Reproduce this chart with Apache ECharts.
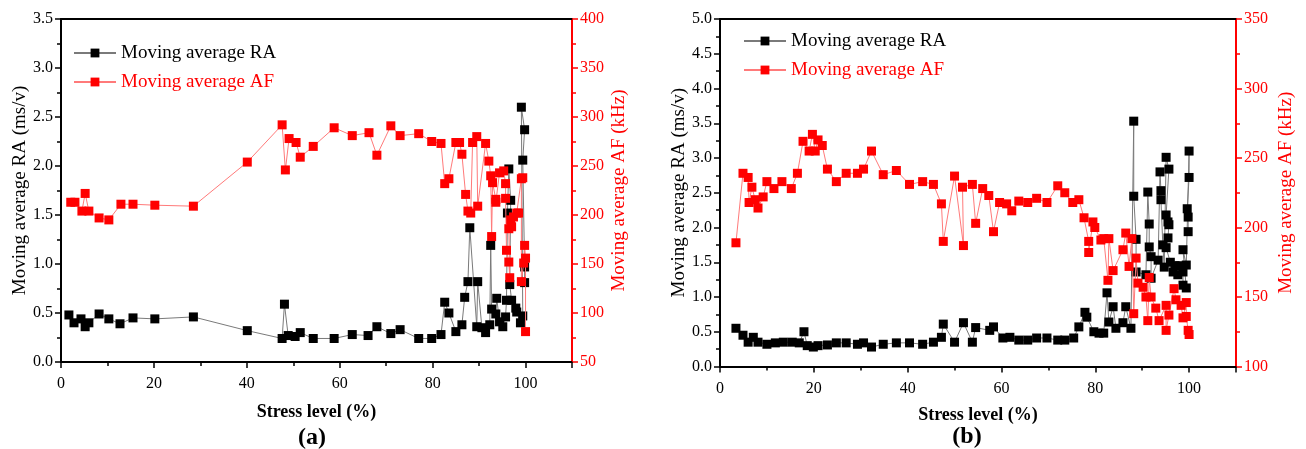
<!DOCTYPE html>
<html>
<head>
<meta charset="utf-8">
<script src="https://cdn.jsdelivr.net/npm/echarts@6/dist/echarts.min.js"></script>
<style>
  html, body { margin: 0; padding: 0; background: #fff; }
  #chart { width: 1306px; height: 449px; }
</style>
</head>
<body>
<div id="chart"></div>
<script>
// ---- Panel (a): moving averages versus stress level ----
const stressRA_a = [1.7, 2.8, 4.3, 5.2, 6.0, 8.2, 10.3, 12.7, 15.5, 20.2, 28.5, 40.1, 47.6, 48.1, 48.9, 50.4, 51.5, 54.3,
  58.8, 62.7, 66.1, 68.0, 71.0, 73.0, 77.0, 79.8, 81.8, 82.6, 83.5, 85.0, 86.3, 86.9, 87.6, 88.0, 89.5, 89.7, 90.6,
  91.4, 92.3, 92.5, 92.7, 93.6, 93.8, 94.4, 95.1, 95.7, 95.9, 96.1, 96.4, 96.8, 96.6, 97.0, 97.9, 98.1, 98.9, 99.4,
  99.1, 99.8, 99.4, 99.8, 99.8];
const ra_a = [0.48, 0.40, 0.44, 0.36, 0.40, 0.49, 0.44, 0.39, 0.45, 0.44, 0.46, 0.32, 0.24, 0.59, 0.27, 0.26, 0.30, 0.24,
  0.24, 0.28, 0.27, 0.36, 0.29, 0.33, 0.24, 0.24, 0.28, 0.61, 0.50, 0.31, 0.38, 0.66, 0.82, 1.37, 0.36, 0.82, 0.35,
  0.30, 0.38, 1.19, 0.54, 0.49, 0.65, 0.41, 0.36, 0.46, 0.63, 1.52, 1.97, 1.65, 0.79, 0.63, 0.55, 0.51, 0.40, 0.47,
  2.60, 2.37, 2.06, 0.97, 0.81];
const stressAF_a = [2.1, 3.0, 4.5, 5.2, 6.0, 8.2, 10.3, 12.9, 15.5, 20.2, 28.5, 40.1, 47.6, 48.3, 49.1, 50.6, 51.5, 54.3,
  58.8, 62.7, 66.3, 68.0, 71.0, 73.0, 77.0, 79.8, 81.8, 82.6, 83.5, 85.0, 85.8, 86.3, 87.1, 87.6, 88.2, 88.6, 89.5,
  89.7, 91.4, 92.1, 92.5, 92.7, 92.9, 93.6, 93.6, 94.4, 95.3, 95.7, 95.7, 95.9, 96.4, 96.6, 96.4, 96.8, 97.0, 97.4,
  98.1, 98.5, 99.1, 99.4, 99.1, 99.6, 99.8, 100.0, 100.0];
const af_a = [213, 213, 204, 222, 204, 197, 195, 211, 211, 210, 209, 254, 292, 246, 278, 274, 259, 270,
  289, 281, 284, 261, 291, 281, 283, 275, 273, 232, 237, 274, 274, 262, 221, 204, 202, 274, 280,
  209, 273, 255, 240, 178, 233, 216, 213, 243, 245, 232, 217, 164, 152, 136, 186, 195, 188, 198,
  202, 202, 237, 238, 132, 151, 169, 156, 81];

// ---- Panel (b) ----
const stressRA_b = [3.4, 4.9, 6.0, 7.1, 8.1, 10.0, 11.8, 13.5, 15.4, 16.9, 17.9, 18.6, 19.9, 20.9, 22.9, 24.8, 26.9,
  29.3, 30.6, 32.3, 34.8, 37.6, 40.4, 43.2, 45.5, 47.2, 47.6, 50.0, 51.9, 53.8, 54.5, 57.5, 58.3, 60.3, 61.8, 63.7,
  65.6, 67.5, 69.7, 72.0, 73.5, 75.4, 76.5, 77.8, 78.2, 79.7, 80.8, 81.8, 82.5, 82.9, 83.8, 84.4, 85.9, 86.5, 87.6,
  88.2, 88.2, 88.7, 88.7, 90.8, 91.2, 91.5, 91.5, 91.9, 91.9, 93.4, 93.8, 94.0, 94.0, 94.4, 94.7, 95.1, 95.7, 95.1,
  95.5, 95.7, 95.5, 95.1, 96.0, 96.6, 97.0, 97.6, 98.0, 98.7, 98.7, 99.4, 98.7, 99.4, 100.0, 100.0, 99.6, 99.8, 99.8];
const ra_b = [0.55, 0.45, 0.35, 0.42, 0.35, 0.32, 0.34, 0.35, 0.35, 0.34, 0.50, 0.30, 0.28, 0.30, 0.31, 0.34, 0.34,
  0.32, 0.34, 0.28, 0.32, 0.34, 0.34, 0.32, 0.35, 0.42, 0.61, 0.35, 0.63, 0.35, 0.56, 0.52, 0.57, 0.41, 0.42, 0.38,
  0.38, 0.41, 0.41, 0.38, 0.38, 0.41, 0.57, 0.78, 0.71, 0.50, 0.48, 0.48, 1.06, 0.64, 0.86, 0.55, 0.63, 0.86, 0.55,
  3.53, 2.45, 1.83, 1.36, 1.32, 2.51, 2.05, 1.72, 1.58, 1.27, 1.53, 2.80, 2.53, 2.40, 1.75, 1.43, 3.01, 2.84, 2.18,
  2.08, 2.04, 1.85, 1.71, 1.50, 1.36, 1.45, 1.32, 1.45, 1.36, 1.17, 1.13, 1.68, 1.46, 3.10, 2.72, 2.27, 2.15, 1.94];
const stressAF_b = [3.4, 4.9, 6.0, 6.2, 6.8, 7.5, 8.1, 9.2, 10.0, 11.5, 13.2, 15.2, 16.5, 17.7, 19.0, 19.7, 20.3, 20.9,
  21.8, 22.9, 24.8, 26.9, 29.3, 30.6, 32.3, 34.8, 37.6, 40.4, 43.2, 45.5, 47.2, 47.6, 50.0, 51.9, 51.7, 53.8, 54.5,
  56.0, 57.3, 58.3, 59.6, 61.1, 62.2, 63.7, 65.6, 67.5, 69.7, 72.0, 73.5, 75.2, 76.5, 77.6, 78.6, 78.6, 79.5, 79.9,
  81.2, 81.8, 82.7, 82.9, 83.8, 85.9, 86.5, 87.2, 87.8, 88.2, 88.7, 89.1, 90.2, 90.8, 91.2, 91.5, 91.9, 92.9, 93.6,
  95.1, 95.1, 95.7, 96.8, 97.2, 98.3, 98.7, 99.4, 99.4, 99.8, 100.0];
const af_b = [189, 239, 236, 218, 229, 220, 214, 222, 233, 228, 233, 228, 239, 262, 255, 267, 255, 263,
  259, 242, 233, 239, 239, 242, 255, 238, 241, 231, 233, 231, 217, 190, 237, 187, 229, 231, 203,
  228, 223, 197, 218, 217, 212, 219, 218, 221, 218, 230, 225, 218, 220, 207, 190, 182, 204, 200,
  191, 192, 162, 192, 169, 184, 196, 172, 192, 138, 178, 160, 157, 150, 133, 164, 150, 142, 133,
  144, 126, 137, 156, 148, 144, 135, 146, 136, 126, 123];

const SERIF = "'Liberation Serif', 'Times New Roman', serif";
const RED = '#ff0000';
const NAME_RA = 'Moving average RA';
const NAME_AF = 'Moving average AF';

const zip = (xs, ys) => xs.map((x, i) => [x, ys[i]]);

function bottomAxis(gridIndex, gap) {
  return {
    gridIndex, type: 'value', position: 'bottom', min: 0, max: 110, interval: 20,
    axisLine: { onZero: false, lineStyle: { color: '#000', width: 2 } },
    axisTick: { show: true, length: 6, lineStyle: { color: '#000', width: 1.5 } },
    minorTick: { show: true, splitNumber: 2, length: 4, lineStyle: { color: '#000', width: 1.5 } },
    splitLine: { show: false },
    axisLabel: { fontFamily: SERIF, fontSize: 16, color: '#000', margin: 14, showMaxLabel: false },
    name: 'Stress level (%)', nameLocation: 'middle', nameGap: gap,
    nameTextStyle: { fontFamily: SERIF, fontSize: 18, fontWeight: 'bold', color: '#000' }
  };
}
function topAxis(gridIndex) {
  return {
    gridIndex, type: 'value', position: 'top', min: 0, max: 110,
    axisLine: { onZero: false, lineStyle: { color: '#000', width: 2 } },
    axisTick: { show: false }, axisLabel: { show: false }, splitLine: { show: false }
  };
}
function leftAxis(gridIndex, max) {
  return {
    gridIndex, type: 'value', position: 'left', min: 0, max, interval: 0.5,
    axisLine: { show: true, onZero: false, lineStyle: { color: '#000', width: 2 } },
    axisTick: { show: true, length: 6, lineStyle: { color: '#000', width: 1.5 } },
    minorTick: { show: true, splitNumber: 2, length: 4, lineStyle: { color: '#000', width: 1.5 } },
    splitLine: { show: false },
    axisLabel: { fontFamily: SERIF, fontSize: 16, color: '#000', margin: 8, formatter: v => v.toFixed(1) },
    name: 'Moving average RA (ms/v)', nameLocation: 'middle', nameGap: 29, nameRotate: 90,
    nameTextStyle: { fontFamily: SERIF, fontSize: 19, color: '#000' }
  };
}
function rightAxis(gridIndex, min, max, gap) {
  return {
    gridIndex, type: 'value', position: 'right', min, max, interval: 50,
    axisLine: { show: true, onZero: false, lineStyle: { color: RED, width: 2 } },
    axisTick: { show: true, length: 6, lineStyle: { color: RED, width: 1.5 } },
    minorTick: { show: true, splitNumber: 2, length: 4, lineStyle: { color: RED, width: 1.5 } },
    splitLine: { show: false },
    axisLabel: { fontFamily: SERIF, fontSize: 16, color: RED, margin: 8 },
    name: 'Moving average AF (kHz)', nameLocation: 'middle', nameGap: gap, nameRotate: 90,
    nameTextStyle: { fontFamily: SERIF, fontSize: 19, color: RED }
  };
}
function raSeries(xi, yi, data) {
  return {
    name: NAME_RA, type: 'line', xAxisIndex: xi, yAxisIndex: yi, data,
    symbol: 'rect', symbolSize: 9, showAllSymbol: true,
    itemStyle: { color: '#000' }, lineStyle: { color: '#7a7a7a', width: 1 }, z: 2
  };
}
function afSeries(xi, yi, data) {
  return {
    name: NAME_AF, type: 'line', xAxisIndex: xi, yAxisIndex: yi, data,
    symbol: 'rect', symbolSize: 9, showAllSymbol: true,
    itemStyle: { color: RED }, lineStyle: { color: '#ff7a7a', width: 1 }, z: 3
  };
}
function legendAt(left, top) {
  return {
    orient: 'vertical', left, top, itemWidth: 42, itemHeight: 11, itemGap: 9,
    selectedMode: false,
    textStyle: { fontFamily: SERIF, fontSize: 19, lineHeight: 20 },
    data: [
      { name: NAME_RA, textStyle: { color: '#000' } },
      { name: NAME_AF, textStyle: { color: RED } }
    ]
  };
}

const chart = echarts.init(document.getElementById('chart'), null, { renderer: 'canvas' });
chart.setOption({
  animation: false,
  backgroundColor: '#fff',
  grid: [
    { left: 61, top: 19, width: 511, height: 343 },
    { left: 720, top: 19, width: 516, height: 347.5 }
  ],
  xAxis: [bottomAxis(0, 41), topAxis(0), bottomAxis(1, 40), topAxis(1)],
  yAxis: [leftAxis(0, 3.5), rightAxis(0, 50, 400, 38), leftAxis(1, 5.0), rightAxis(1, 100, 350, 41)],
  legend: [legendAt(68, 38), legendAt(738, 26)],
  series: [
    raSeries(0, 0, zip(stressRA_a, ra_a)),
    afSeries(0, 1, zip(stressAF_a, af_a)),
    raSeries(2, 2, zip(stressRA_b, ra_b)),
    afSeries(2, 3, zip(stressAF_b, af_b))
  ],
  graphic: [
    { type: 'text', x: 312, y: 438, style: { text: '(a)', font: 'bold 24px ' + SERIF, fill: '#000', align: 'center', verticalAlign: 'middle' } },
    { type: 'text', x: 967, y: 437, style: { text: '(b)', font: 'bold 24px ' + SERIF, fill: '#000', align: 'center', verticalAlign: 'middle' } }
  ]
});
</script>
</body>
</html>
